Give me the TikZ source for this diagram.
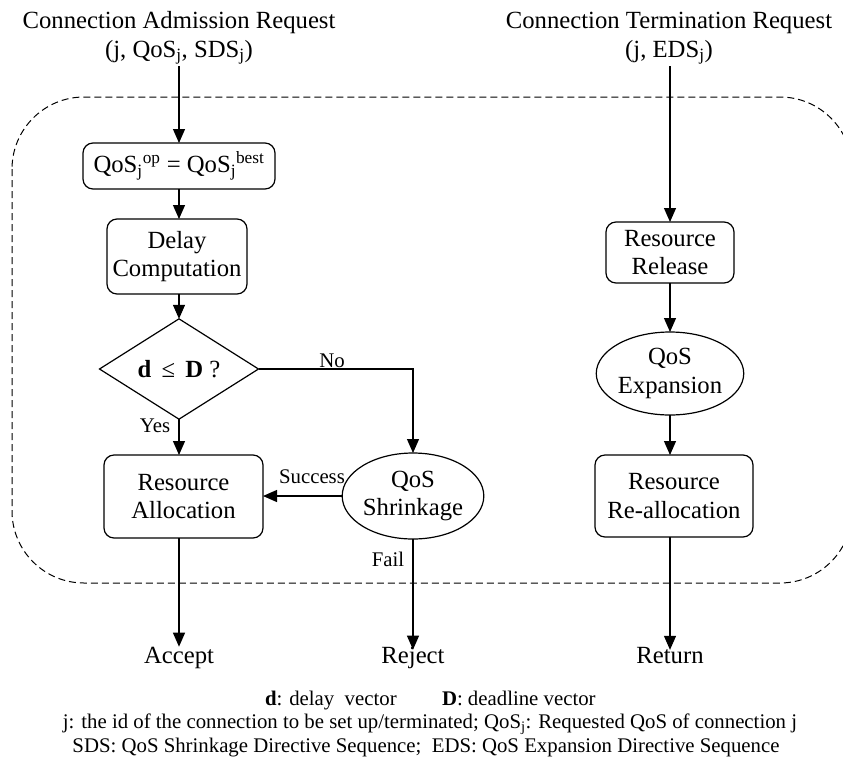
\documentclass[tikz,border=0pt]{standalone}
\usepackage{fontspec}
\setmainfont{Liberation Serif}
\usetikzlibrary{shapes.geometric,arrows.meta}
\begin{document}
\begin{tikzpicture}[x=1pt,y=-1pt,
  every node/.style={inner sep=0pt,outer sep=0pt},
  big/.style={font=\fontsize{24.7}{28.5}\selectfont},
  lab/.style={font=\fontsize{20.8}{24}\selectfont},
  leg/.style={font=\fontsize{20.8}{24}\selectfont},
  rbox/.style={draw,rounded corners=10pt,line width=1.2pt,big,align=center},
  oval/.style={draw,ellipse,line width=1.2pt,big,align=center},
  flow/.style={line width=1.2pt,-{Triangle[length=14pt,width=12pt]}},
  plain/.style={line width=1.2pt}
]
\useasboundingbox (0,0) rectangle (843,761);
% dashed boundary
\draw[dash pattern=on 7pt off 4pt,line width=1pt,rounded corners=72pt] (12,97) rectangle (852,583);
% titles
\node[big,anchor=base] (t1) at (179,28) {Connection Admission Request};
\node[big,anchor=base] (t1b) at (179,57) {(j, QoS\textsubscript{j}, SDS\textsubscript{j})};
\node[big,anchor=base] (t2) at (669,28) {Connection Termination Request};
\node[big,anchor=base] (t2b) at (669,57) {(j, EDS\textsubscript{j})};
\coordinate (s1) at (179,66);
\coordinate (s2) at (670,66);
% left column
\node[rbox,minimum width=192pt,minimum height=46pt] (b1) at (179,166) {QoS\textsubscript{j}\textsuperscript{op} = QoS\textsubscript{j}\textsuperscript{best}};
\node[rbox,minimum width=140pt,minimum height=75pt] (b2) at (177,256.5) {Delay\\Computation};
\node[draw,diamond,line width=1.2pt,minimum width=159pt,minimum height=74pt,big] (dm) at (179,369) {\textbf{d} \,≤\, \textbf{D} ?};
\node[rbox,minimum width=159pt,minimum height=83pt] (b3) at (183.5,496.5) {Resource\\Allocation};
\node[oval,minimum width=140pt,minimum height=86pt] (e1) at (413,496) {QoS\\Shrinkage};
\node[big,anchor=base] (acc) at (179,663) {Accept};
\node[big,anchor=base] (rej) at (413,663) {Reject};
% right column
\node[rbox,minimum width=128pt,minimum height=61pt] (r1) at (670,252.5) {Resource\\Release};
\node[oval,minimum width=139pt,minimum height=83pt] (e2) at (670,373.5) {QoS\\Expansion};
\node[rbox,minimum width=158pt,minimum height=82pt] (r2) at (674,496) {Resource\\Re-allocation};
\node[big,anchor=base] (ret) at (670,663) {Return};
% labels
\node[lab,anchor=base] (lno) at (332,367) {No};
\node[lab,anchor=base] (lyes) at (155,432) {Yes};
\node[lab,anchor=base] (lsuc) at (312,483) {Success};
\node[lab,anchor=base] (lfail) at (388,566) {Fail};
% connectors
\draw[flow] (s1) -- (s1 |- b1.north);
\draw[flow] (b1.south) -- (b1.south |- b2.north);
\draw[flow] (b2.south -| dm.north) -- (dm.north);
\draw[flow] (dm.south) -- (dm.south |- b3.north);
\draw[flow] (dm.east) -| (e1.north);
\draw[flow] (e1.west) -- (e1.west -| b3.east);
\draw[flow] (b3.south -| acc.north) -- (acc.north);
\draw[flow] (e1.south) -- ([yshift=-3pt]rej.north);
\draw[flow] (s2) -- (s2 |- r1.north);
\draw[flow] (r1.south) -- (r1.south |- e2.north);
\draw[flow] (e2.south) -- (e2.south |- r2.north);
\draw[flow] (r2.south -| ret.north) -- ([yshift=-3pt]ret.north);
% legend
\node[leg,anchor=base west] (lg1) at (265,705) {\textbf{d}: delay\ \ vector};
\node[leg,anchor=base west] (lg2) at (442,705) {\textbf{D}: deadline vector};
\node[leg,anchor=base] (lg3) at (430,728) {j: the id of the connection to be set up/terminated; QoS\textsubscript{j}: Requested QoS of connection j};
\node[leg,anchor=base] (lg4) at (426,752) {SDS: QoS Shrinkage Directive Sequence;\ \ EDS: QoS Expansion Directive Sequence};
\end{tikzpicture}
\end{document}
